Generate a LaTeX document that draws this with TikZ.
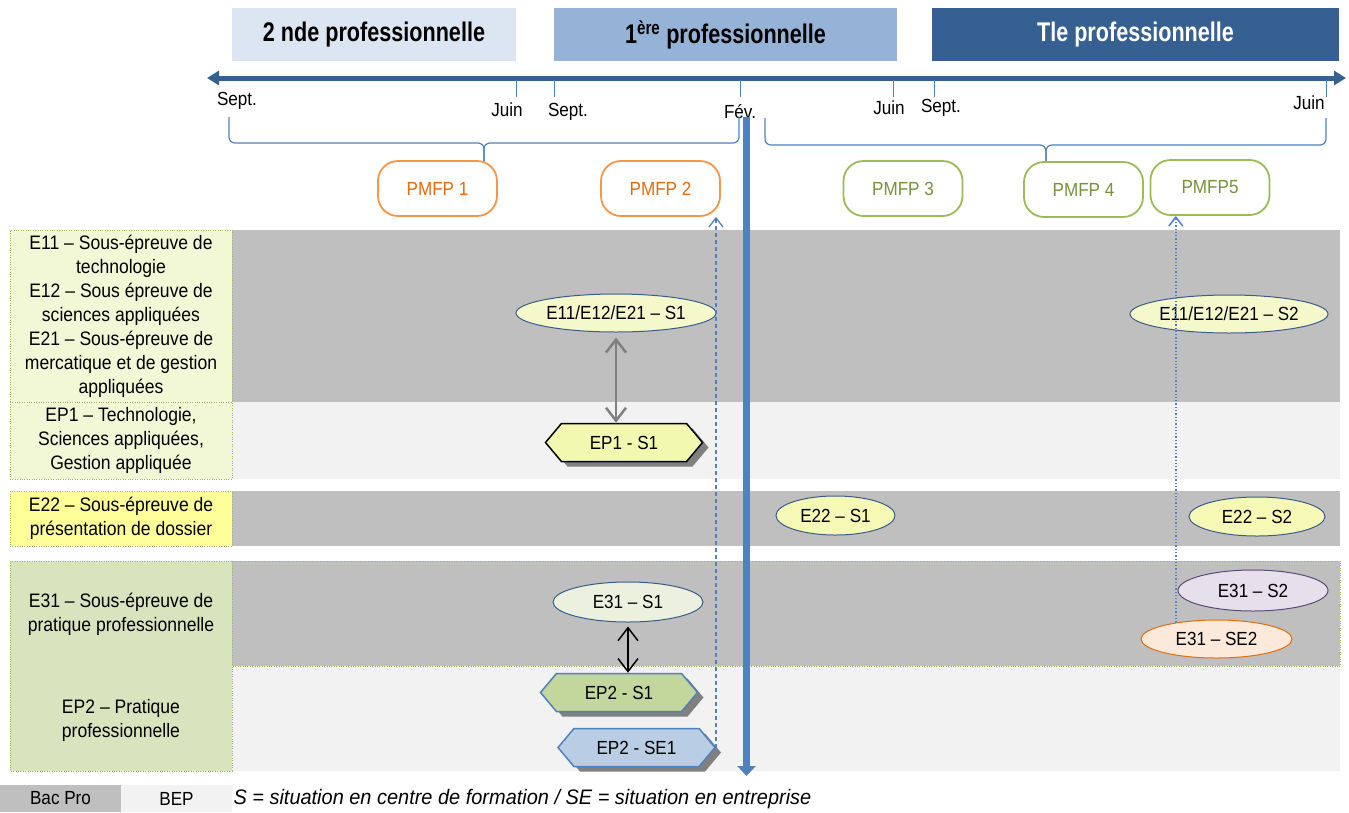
\documentclass[tikz,border=0pt]{standalone}
\usepackage{fontspec}
\setmainfont{Liberation Sans}[FakeStretch=0.9]
\newfontfamily\headfont{Liberation Sans}[FakeStretch=0.8]
\newfontfamily\legendfont{Liberation Sans}[FakeStretch=0.95]
\usetikzlibrary{arrows.meta,shapes.geometric,shapes.symbols,shadows}

\definecolor{bandgray}{HTML}{BFBFBF}
\definecolor{bandlight}{HTML}{F2F2F2}
\definecolor{hdrpale}{HTML}{DCE6F2}
\definecolor{hdrmid}{HTML}{95B3D7}
\definecolor{hdrdark}{HTML}{376092}
\definecolor{tickblue}{HTML}{4F81BD}
\definecolor{ellblue}{HTML}{385D8A}
\definecolor{pmorange}{HTML}{F79646}
\definecolor{pmorangetxt}{HTML}{E46C0A}
\definecolor{pmgreen}{HTML}{9BBB59}
\definecolor{pmgreentxt}{HTML}{77933C}
\definecolor{boxpale}{HTML}{F2F7D6}
\definecolor{boxyellow}{HTML}{FFFF99}
\definecolor{boxgreen}{HTML}{D7E4BD}
\definecolor{ellyellow}{HTML}{F4F8CB}
\definecolor{ellyellowb}{HTML}{F6F9B6}
\definecolor{ellsage}{HTML}{EBF1DE}
\definecolor{ellpurple}{HTML}{E5E0EC}
\definecolor{ellpurpleb}{HTML}{5F497A}
\definecolor{ellorange}{HTML}{FDE9D9}
\definecolor{hexyellow}{HTML}{F3F8B1}
\definecolor{hexgreen}{HTML}{C3D69B}
\definecolor{hexblue}{HTML}{B9CDE5}
\definecolor{shadowgray}{HTML}{808080}

\tikzset{
header/.style={minimum width=#1, minimum height=53, inner sep=0,
  font=\headfont\bfseries\fontsize{27}{30}\selectfont},
pmfp/.style={rounded corners=20, line width=1.8, fill=white,
  minimum width=119, minimum height=55, inner sep=0},
orangebox/.style={pmfp, draw=pmorange, text=pmorangetxt},
greenbox/.style={pmfp, draw=pmgreen, text=pmgreentxt},
leftbox/.style={draw=pmgreen, dotted, align=center, inner sep=0,
  font=\fontsize{19.5}{24}\selectfont},
epreuve/.style={ellipse, draw=ellblue, line width=1, inner sep=0},
hexa/.style={signal, signal to=west and east, signal pointer angle=100,
  minimum width=157, minimum height=38, inner sep=0, line width=1.5,
  drop shadow={shadow xshift=6pt, shadow yshift=-5pt, fill=shadowgray, opacity=1}},
bracket/.style={draw=tickblue, line width=1.2, rounded corners=6},
grayarrow/.style={draw=shadowgray, line width=2.5,
  {Straight Barb[length=13pt,width=20pt]}-{Straight Barb[length=13pt,width=20pt]}},
blackarrow/.style={draw=black, line width=1.5,
  {Straight Barb[length=13pt,width=20pt]}-{Straight Barb[length=13pt,width=20pt]}},
backarrow/.style={draw=tickblue, line width=1.3, -{Straight Barb[length=9pt,width=14pt]}}
}

\begin{document}
\begin{tikzpicture}[x=1pt,y=-1pt,font=\fontsize{19}{24}\selectfont]
\useasboundingbox (0,0) rectangle (1349,812);

% bandes
\fill[bandgray] (232,230) rectangle (1340,402);
\fill[bandlight] (232,402) rectangle (1340,479);
\fill[bandgray] (232,491) rectangle (1340,546);
\fill[bandgray] (232,561) rectangle (1340,666);
\fill[bandlight] (232,666) rectangle (1340,771);

% colonne des epreuves
\node[leftbox, fill=boxpale, minimum width=222, minimum height=172] (lbtech) at (121,316)
  {E11 – Sous-épreuve de\\technologie\\E12 – Sous épreuve de\\sciences appliquées\\E21 – Sous-épreuve de\\mercatique et de gestion\\appliquées};
\node[leftbox, fill=boxpale, minimum width=222, minimum height=77] (lbep1) at (121,440.5)
  {EP1 – Technologie,\\Sciences appliquées,\\Gestion appliquée};
\node[leftbox, fill=boxyellow, minimum width=222, minimum height=55] (lbdossier) at (121,518.5)
  {E22 – Sous-épreuve de\\présentation de dossier};
\fill[boxgreen] (10,561) rectangle (232,771);
\draw[draw=pmgreen, dotted] (232,771) -- (10,771) -- (10,561) -- (1340,561) -- (1340,666) -- (232,666);
\draw[draw=pmgreen, dotted] (232,561) -- (232,771);
\node[align=center, font=\fontsize{19.5}{24}\selectfont] (lbpratique) at (121,614) {E31 – Sous-épreuve de\\pratique professionnelle};
\node[align=center, font=\fontsize{19.5}{24}\selectfont] (lbep2) at (121,720) {EP2 – Pratique\\professionnelle};

% annees
\node[header=284, fill=hdrpale] (hdrsecond) at (374,34.5) {2 nde professionnelle};
\node[header=343, fill=hdrmid] (hdrfirst) at (725.5,34.5) {1\textsuperscript{ère} professionnelle};
\node[header=407, fill=hdrdark, text=white] (hdrterm) at (1135.5,34.5) {Tle professionnelle};

% frise
\coordinate (tlstart) at (207,78);
\coordinate (tlend) at (1346,78);
\draw[hdrdark, line width=5, {Triangle[length=12pt,width=14pt]}-{Triangle[length=12pt,width=14pt]}] (tlstart) -- (tlend);
\foreach \tx in {516,554,740,893,934,1326}
  \draw[tickblue, line width=1] (\tx,80) -- (\tx,97);
\node (msepta) at (237,101) {Sept.};
\node (mjuina) at (507,110) {Juin};
\node (mseptb) at (568,112) {Sept.};
\node (mfev) at (740,112) {Fév.};
\node (mjuinb) at (889,108) {Juin};
\node (mseptc) at (941,108) {Sept.};
\node (mjuinc) at (1309,103) {Juin};

% accolades
\draw[bracket] (229,117) |- (484,143) -- (484,170);
\draw[bracket] (484,170) -- (484,143) -| (739,117);
\draw[bracket] (765,118) |- (1046,145) -- (1046,173);
\draw[bracket] (1046,173) -- (1046,145) -| (1326,118);

% PMFP
\node[orangebox] (pmfpa) at (437.5,188.5) {PMFP 1};
\node[orangebox] (pmfpb) at (660.5,188.5) {PMFP 2};
\node[greenbox] (pmfpc) at (903,188.5) {PMFP 3};
\node[greenbox] (pmfpd) at (1083.5,189.5) {PMFP 4};
\node[greenbox] (pmfpe) at (1210,187.5) {PMFP5};

% situations
\node[epreuve, fill=ellyellow, minimum width=200, minimum height=38] (bacsa) at (616,313) {E11/E12/E21 – S1};
\node[epreuve, fill=ellyellow, minimum width=198, minimum height=38] (bacsb) at (1229,314) {E11/E12/E21 – S2};
\node[epreuve, fill=ellyellowb, minimum width=119, minimum height=39] (dossa) at (835.5,515.5) {E22 – S1};
\node[epreuve, fill=ellyellowb, minimum width=136, minimum height=39] (dossb) at (1257,516.5) {E22 – S2};
\node[epreuve, fill=ellsage, minimum width=150, minimum height=40] (prosa) at (628,602) {E31 – S1};
\node[epreuve, fill=ellpurple, draw=ellpurpleb, minimum width=150, minimum height=41] (prosb) at (1253,590.5) {E31 – S2};
\node[epreuve, fill=ellorange, draw=pmorangetxt, minimum width=151, minimum height=38] (prose) at (1216.5,639) {E31 – SE2};

\node[hexa, fill=hexyellow, draw=black] (epsa) at (624,442.5) {EP1 - S1};
\node[hexa, fill=hexgreen, draw=tickblue] (eppa) at (619,692.5) {EP2 - S1};
\node[hexa, fill=hexblue, draw=tickblue] (eppe) at (636.5,747.5) {EP2 - SE1};

% liens
\draw[grayarrow, shorten <=5pt] (bacsa.south) -- (bacsa.south |- epsa.north);
\draw[blackarrow, shorten <=4pt] (prosa.south) -- (prosa.south |- eppa.north);
\draw[backarrow, dashed, dash pattern=on 4pt off 3pt] (eppe.east) -- (eppe.east |- pmfpb.south);
\draw[backarrow, dotted, line width=1.5] (prose.158) -- (prose.158 |- pmfpe.south);

% fevrier
\draw[tickblue, line width=7, -{Triangle[length=10pt,width=18pt]}] (746.5,117) -- (746.5,776);

% legende
\node[fill=bandgray, minimum width=121, minimum height=27, inner sep=0] (legbac) at (60.5,798.5) {Bac Pro};
\node[fill=bandlight, minimum width=111, minimum height=27, inner sep=0] (legbep) at (176.5,798.5) {BEP};
\node[anchor=west, font=\legendfont\itshape\fontsize{21}{24}\selectfont] (legtext) at (230,799)
  {S = situation en centre de formation / SE = situation en entreprise};
\end{tikzpicture}
\end{document}
